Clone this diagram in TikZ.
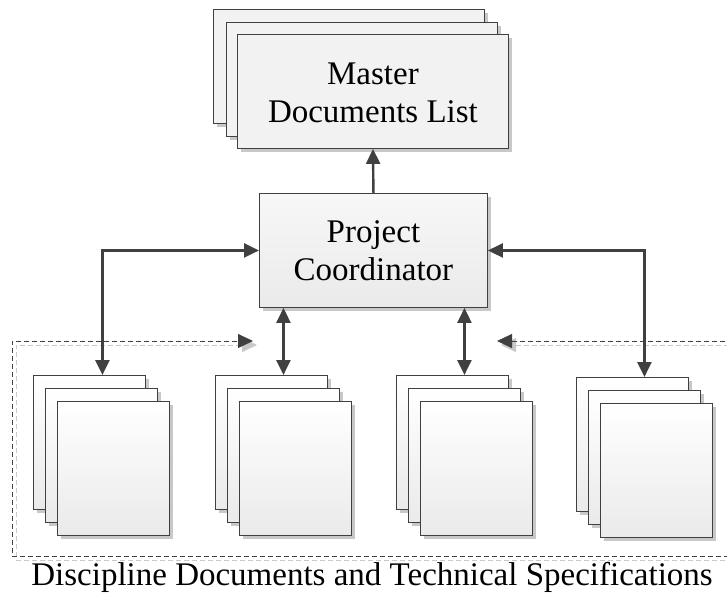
\documentclass[tikz,border=0pt]{standalone}
\usepackage{fontspec}
\setmainfont{Liberation Serif}
\usetikzlibrary{arrows.meta,shadows,calc}
\definecolor{linegray}{HTML}{404040}
\definecolor{shadowgray}{HTML}{C8C8C8}
\definecolor{fillgray}{HTML}{F2F2F2}
\definecolor{fillbottom}{HTML}{EAEAEA}
\tikzset{
  sheet/.style={draw=linegray, line width=0.9pt, rectangle, anchor=north west,
    top color=white, bottom color=fillbottom, inner sep=0pt,
    drop shadow={fill=shadowgray, opacity=1, shadow xshift=4pt, shadow yshift=-4pt}},
  docsheet/.style={sheet, minimum width=112pt, minimum height=134pt},
  listsheet/.style={sheet, fill=fillgray, top color=fillgray, bottom color=fillgray,
    minimum width=271pt, minimum height=114pt},
  coordbox/.style={sheet, top color=fillgray!60, bottom color=fillbottom,
    minimum width=228pt, minimum height=114pt},
  label/.style={font=\fontsize{33}{38}\selectfont, align=center},
  arr/.style={draw=linegray, line width=2.4pt, -{Triangle[length=15pt,width=14pt]}},
  biarr/.style={draw=linegray, line width=2.4pt,
    {Triangle[length=15pt,width=14pt]}-{Triangle[length=15pt,width=14pt]}},
  frame/.style={draw=linegray, line width=0.8pt, dash pattern=on 5pt off 3pt,
    {Triangle[length=15pt,width=14pt]}-{Triangle[length=15pt,width=14pt]}},
  frameshadow/.style={draw=shadowgray, line width=0.8pt, dash pattern=on 5pt off 3pt,
    {Triangle[length=15pt,width=14pt,fill=shadowgray]}-{Triangle[length=15pt,width=14pt,fill=shadowgray]}},
}
\begin{document}
\begin{tikzpicture}[x=1pt,y=-1pt]
  \useasboundingbox (0,0) rectangle (727,594);

  % dashed frame round the discipline documents
  \coordinate (fr0) at (497,341);
  \coordinate (fr1) at (745,341);
  \coordinate (fr2) at (745,556);
  \coordinate (fr3) at (12,556);
  \coordinate (fr4) at (12,341);
  \coordinate (fr5) at (253,341);
  \draw[frameshadow] ($(fr0)+(4,4)$) -- ($(fr1)+(4,4)$) -- ($(fr2)+(4,4)$)
    -- ($(fr3)+(4,4)$) -- ($(fr4)+(4,4)$) -- ($(fr5)+(4,4)$);
  \draw[frame] (fr0) -- (fr1) -- (fr2) -- (fr3) -- (fr4) -- (fr5);

  % master documents list (stack of three sheets)
  \node[listsheet] (mlb) at (213,9) {};
  \node[listsheet] (mlm) at (226,22) {};
  \node[listsheet] (ml) at (237,34) {};
  \node[label] at ([yshift=-1pt]ml.center) {Master\\Documents List};

  % project coordinator
  \node[coordbox] (pc) at (259,193) {};
  \node[label] at (pc.center) {Project\\Coordinator};

  % discipline document stacks
  \foreach \i/\x/\y in {1/33/375, 2/215/375, 3/396/375, 4/576/377} {
    \node[docsheet] (d\i b) at (\x,\y) {};
    \node[docsheet] (d\i m) at (\x+12,\y+13) {};
    \node[docsheet] (d\i f) at (\x+24,\y+26) {};
  }

  % connectors
  \draw[arr] (pc.north) -- (ml.south);
  \draw[biarr] (pc.west) -| ([xshift=13pt]d1b.north);
  \draw[biarr] (pc.east) -| ([xshift=12pt]d4b.north);
  \draw[biarr] ([xshift=12pt]d2b.north |- pc.south) -- ([xshift=12pt]d2b.north);
  \draw[biarr] ([xshift=12pt]d3b.north |- pc.south) -- ([xshift=12pt]d3b.north);

  % caption
  \node[font=\fontsize{33}{38}\selectfont] (cap) at (372,577) {Discipline Documents and Technical Specifications};
\end{tikzpicture}
\end{document}
